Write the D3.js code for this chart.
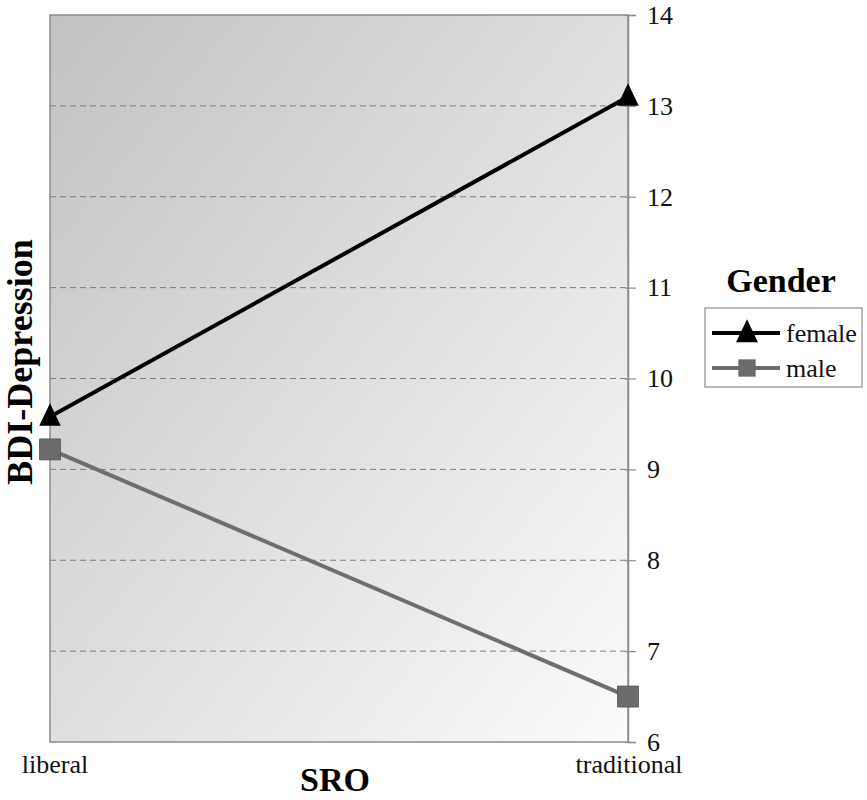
<!DOCTYPE html>
<html><head><meta charset="utf-8">
<script src="https://cdn.jsdelivr.net/npm/d3@7"></script>
<style>body{margin:0;background:#fff}</style>
</head><body>
<svg id="c" width="867" height="800"></svg>
<script>
const categories = ["liberal", "traditional"];
const seriesNames = ["female", "male"];
const female = [9.58, 13.1];
const male = [9.22, 6.5];
const yTicks = [6, 7, 8, 9, 10, 11, 12, 13, 14];

const svg = d3.select("#c");
const L = 50, R = 628, T = 15, B = 742;
const x = d3.scalePoint().domain(categories).range([L, R]);
const y = d3.scaleLinear().domain([6, 14]).range([B, T]);
const serif = "'Liberation Serif','Times New Roman',serif";

// taller-than-equilateral triangle symbol
const triType = {
  draw(ctx, size) {
    const w = Math.sqrt(size);
    const h = w * 1.05;
    ctx.moveTo(0, -h * 0.6);
    ctx.lineTo(w / 2, h * 0.4);
    ctx.lineTo(-w / 2, h * 0.4);
    ctx.closePath();
  }
};

const defs = svg.append("defs");
const g = defs.append("linearGradient").attr("id", "bg")
  .attr("x1", "0").attr("y1", "0").attr("x2", "1").attr("y2", "1");
g.append("stop").attr("offset", "0").attr("stop-color", "#c2c2c2");
g.append("stop").attr("offset", "1").attr("stop-color", "#fbfbfb");

svg.append("rect").attr("x", L).attr("y", T).attr("width", R - L).attr("height", B - T)
  .attr("fill", "url(#bg)").attr("stroke", "#8c8c8c").attr("stroke-width", 1.5);

// grid
svg.append("g").selectAll("line").data(yTicks.filter(t => t > 6 && t < 14)).join("line")
  .attr("x1", L).attr("x2", R).attr("y1", d => y(d)).attr("y2", d => y(d))
  .attr("stroke", "#7a7a7a").attr("stroke-width", 1).attr("stroke-dasharray", "6,4");

// right axis
const ax = svg.append("g").attr("transform", `translate(${R},0)`)
  .call(d3.axisRight(y).tickValues(yTicks).tickSize(8).tickPadding(11));
ax.attr("font-family", serif);
ax.select(".domain").attr("stroke", "#8c8c8c").attr("stroke-width", 1.5);
ax.selectAll(".tick line").attr("stroke", "#8c8c8c").attr("stroke-width", 1.2).attr("x1", -3);
ax.selectAll("text").attr("font-family", serif).attr("font-size", 26).attr("fill", "#111");

// x labels
svg.append("g").selectAll("text").data(categories).join("text")
  .attr("x", d => x(d) + (d === "liberal" ? 5 : 1)).attr("y", 773)
  .attr("text-anchor", "middle").attr("font-family", serif).attr("font-size", 26)
  .attr("fill", "#111").text(d => d);

svg.append("text").attr("x", 335).attr("y", 791).attr("text-anchor", "middle")
  .attr("font-family", serif).attr("font-size", 34).attr("font-weight", "bold").text("SRO");
svg.append("text").attr("transform", "translate(32,362) rotate(-90)").attr("text-anchor", "middle")
  .attr("font-family", serif).attr("font-size", 36).attr("font-weight", "bold").text("BDI-Depression");

const line = d3.line().x((d, i) => x(categories[i])).y(d => y(d));
const tri = d3.symbol().type(triType).size(460);
const sq = d3.symbol().type(d3.symbolSquare).size(441);

svg.append("path").datum(male).attr("d", line).attr("fill", "none")
  .attr("stroke", "#6e6e6e").attr("stroke-width", 4);
svg.append("path").datum(female).attr("d", line).attr("fill", "none")
  .attr("stroke", "#000").attr("stroke-width", 4);

svg.append("g").selectAll("path").data(male).join("path")
  .attr("transform", (d, i) => `translate(${x(categories[i])},${y(d)})`)
  .attr("d", sq).attr("fill", "#6b6b6b").attr("stroke", "#555").attr("stroke-width", 0.8);
svg.append("g").selectAll("path").data(female).join("path")
  .attr("transform", (d, i) => `translate(${x(categories[i])},${y(d)})`)
  .attr("d", tri).attr("fill", "#000");

// legend
svg.append("text").attr("x", 781).attr("y", 292).attr("text-anchor", "middle")
  .attr("font-family", serif).attr("font-size", 34).attr("font-weight", "bold").text("Gender");
svg.append("rect").attr("x", 705).attr("y", 308).attr("width", 157).attr("height", 79)
  .attr("fill", "#fff").attr("stroke", "#8c8c8c").attr("stroke-width", 1.2);
const legY = [333, 368];
const colors = ["#000", "#6e6e6e"];
seriesNames.forEach((n, i) => {
  svg.append("line").attr("x1", 712).attr("x2", 780).attr("y1", legY[i]).attr("y2", legY[i])
    .attr("stroke", colors[i]).attr("stroke-width", 4);
  svg.append("path").attr("transform", `translate(747,${legY[i]})`)
    .attr("d", i === 0 ? d3.symbol().type(triType).size(480)() : d3.symbol().type(d3.symbolSquare).size(300)())
    .attr("fill", i === 0 ? "#000" : "#6b6b6b");
  svg.append("text").attr("x", 786).attr("y", legY[i] + 9).attr("font-family", serif)
    .attr("font-size", 26).attr("fill", "#111").text(n);
});
</script>
</body></html>
